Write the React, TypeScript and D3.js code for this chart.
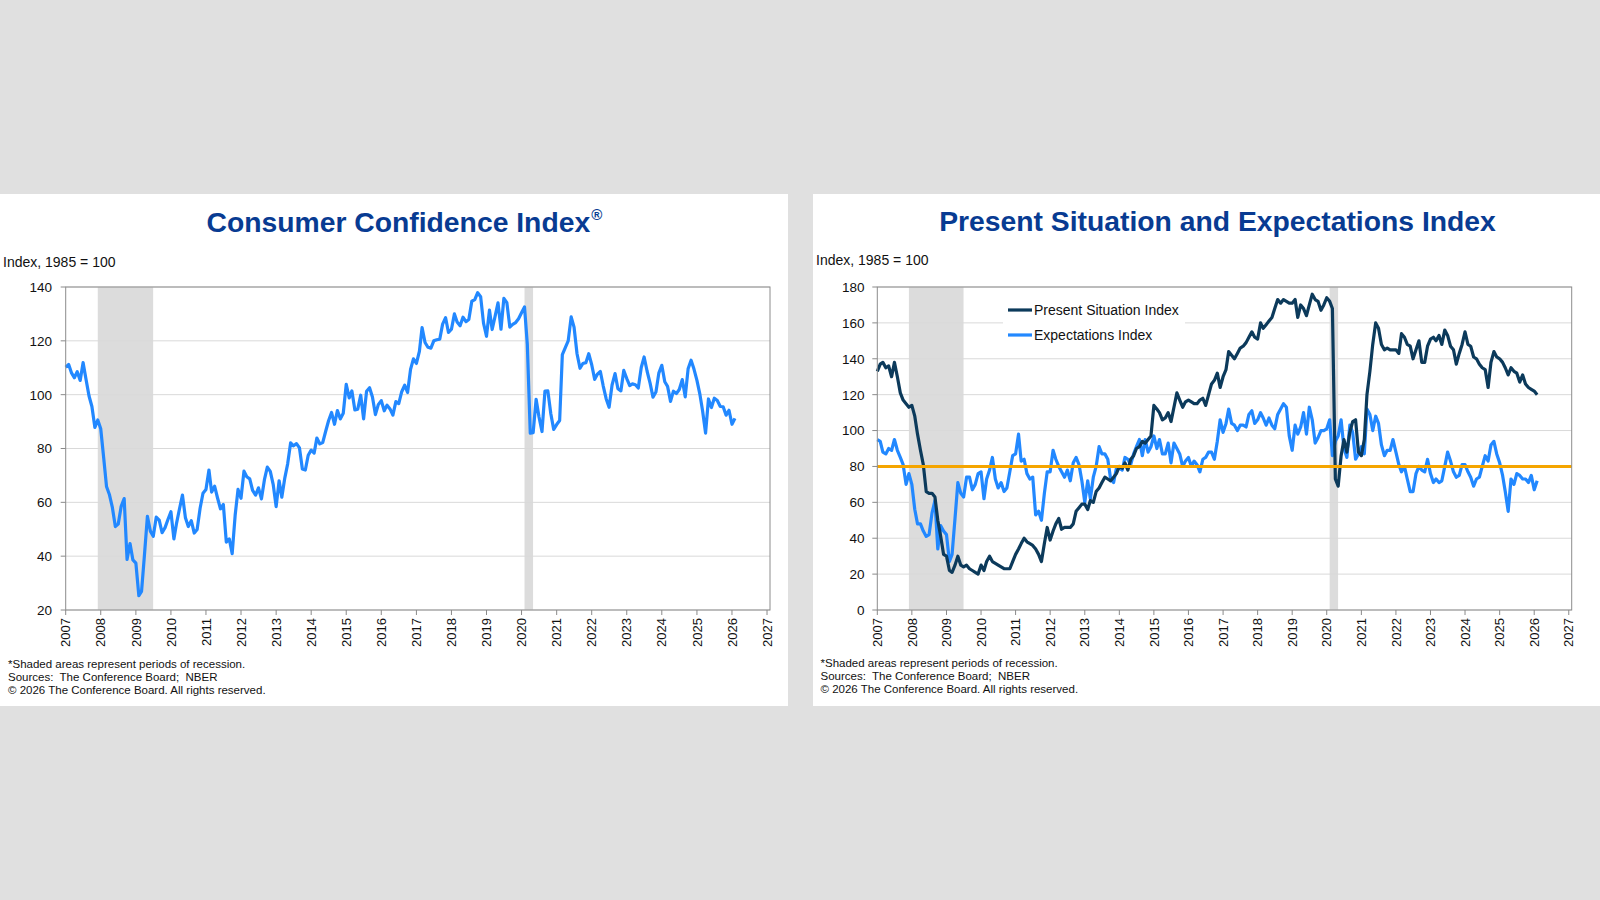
import React from "react";
import * as d3 from "d3";

// monthly values, Jan 2007 .. Feb 2026
const cciValues = [
  110.2, 111.2, 108.2, 106.3, 108.5, 105.3, 111.9, 105.6, 99.5, 95.6, 87.8, 90.6,
  87.3, 76.4, 65.9, 62.8, 58.1, 51.0, 51.9, 58.5, 61.4, 38.8, 44.7, 38.6,
  37.4, 25.3, 26.9, 40.8, 54.8, 49.3, 47.4, 54.5, 53.4, 48.7, 50.6, 53.6,
  56.5, 46.4, 52.3, 57.7, 62.7, 54.3, 51.0, 53.2, 48.6, 49.9, 57.8, 63.4,
  64.8, 72.0, 63.8, 66.0, 61.7, 57.6, 59.2, 45.2, 46.4, 40.9, 55.2, 64.8,
  61.5, 71.6, 69.5, 68.7, 64.4, 62.7, 65.4, 61.3, 68.4, 73.1, 71.5, 66.7,
  58.4, 68.0, 61.9, 69.0, 74.3, 82.1, 81.0, 81.8, 80.2, 72.4, 72.0, 77.5,
  79.4, 78.3, 83.9, 81.7, 82.2, 86.4, 90.3, 93.4, 89.0, 94.1, 91.0, 93.1,
  103.8, 98.8, 101.4, 94.3, 94.6, 99.8, 91.0, 101.3, 102.6, 99.1, 92.6, 96.3,
  97.8, 94.0, 96.1, 94.7, 92.4, 97.4, 96.7, 101.1, 103.5, 100.8, 109.4, 113.3,
  111.6, 116.1, 124.9, 119.4, 117.6, 117.3, 120.0, 120.4, 120.6, 126.2, 128.6, 123.1,
  124.3, 130.0, 127.0, 125.6, 128.8, 127.1, 127.9, 134.7, 135.3, 137.9, 136.4, 126.6,
  121.7, 131.4, 124.2, 129.2, 134.1, 124.3, 135.8, 134.2, 125.1, 126.1, 126.8, 128.2,
  130.4, 132.6, 118.8, 85.7, 85.9, 98.3, 91.7, 86.3, 101.3, 101.4, 92.9, 87.1,
  88.9, 90.4, 114.9, 117.5, 120.0, 128.9, 125.1, 115.2, 109.8, 111.6, 111.9, 115.2,
  111.1, 105.7, 107.6, 108.6, 103.2, 98.4, 95.3, 103.6, 107.8, 102.2, 101.4, 109.0,
  106.0, 103.4, 104.0, 103.7, 102.5, 110.1, 114.0, 108.7, 104.3, 99.1, 101.0, 108.0,
  110.9, 104.8, 103.1, 97.5, 101.3, 100.4, 101.9, 105.6, 99.2, 109.6, 112.8, 109.5,
  105.3, 100.1, 93.9, 85.7, 98.4, 95.2, 98.7, 97.8, 95.6, 95.5, 92.4, 94.2,
  89.0, 91.2,
];

const presentValues = [
  133, 137, 138, 135, 136, 130, 138, 130, 121, 117, 115, 113,
  114, 108, 98, 89, 81, 66, 65, 65, 63, 50, 41, 31,
  30, 22, 21, 25, 30, 25, 24, 25, 23, 22, 21, 20,
  25, 22, 27, 30, 27, 26, 25, 24, 23, 23, 23, 27,
  31, 34, 37, 40, 38, 37, 36, 34, 31, 27, 37, 46,
  39, 44, 48, 51, 45, 46, 46, 46, 48, 55, 57, 59,
  59, 56, 61, 60, 66, 68, 71, 74, 73, 72, 74, 76,
  80, 79, 82, 78, 84, 86, 90, 91, 94, 93, 95, 97,
  114, 112, 110, 106, 107, 110, 105, 113, 121, 117, 113, 116,
  117, 116, 115, 115, 117, 118, 114, 120, 126, 128, 132, 124,
  130, 134, 144, 142, 140, 143, 146, 147, 149, 152, 155, 152,
  151, 160, 157, 159, 161, 163, 168, 173, 171, 173, 172, 171,
  171, 173, 163, 170, 168, 164, 170, 176, 173, 172, 167, 170,
  174, 172, 168, 73, 69, 86, 95, 88, 99, 105, 106, 88,
  86, 95, 120, 133, 148, 160, 157, 148, 145, 146, 145, 145,
  145, 143, 154, 152, 148, 147, 140, 145, 150, 138, 138, 147,
  151, 152, 150, 153, 148, 156, 153, 147, 145, 137, 143, 148,
  155, 148, 147, 141, 140, 137, 135, 134, 124, 138, 144, 141,
  140, 138, 135, 131, 135, 133, 132, 127, 131, 126, 124, 123,
  122, 120,
];

const expectValues = [
  95, 94, 88, 87, 90, 89, 95, 89, 85, 81, 70, 76,
  70, 56, 48, 48, 44, 41, 42, 54, 61, 34, 47, 44,
  42, 27, 31, 51, 71, 65, 63, 74, 74, 67, 70, 76,
  77, 62, 73, 78, 85, 73, 68, 71, 66, 68, 77, 86,
  87, 98, 83, 84, 76, 73, 74, 53, 55, 50, 65, 77,
  77, 89, 84, 80, 77, 74, 78, 72, 82, 85, 81, 72,
  60, 72, 62, 74, 80, 91, 87, 87, 84, 73, 71, 79,
  79, 78, 85, 84, 81, 87, 91, 95, 86, 95, 88, 91,
  97, 90, 95, 87, 87, 93, 82, 93, 90, 87, 80, 83,
  85, 80, 83, 81, 77, 84, 85, 88, 88, 84, 94, 106,
  99, 104, 112, 104, 103, 100, 103, 103, 102, 109, 111, 104,
  106, 110, 107, 103, 107, 103, 101, 109, 112, 115, 113, 97,
  89, 103, 98, 102, 110, 98, 113, 106, 93, 96, 100, 100,
  101, 106, 86, 94, 97, 106, 90, 85, 103, 99, 84, 87,
  91, 87, 112, 109, 100, 108, 104, 92, 86, 89, 89, 95,
  88, 81, 77, 80, 73, 66, 66, 76, 80, 78, 77, 84,
  76, 71, 73, 71, 72, 80, 88, 83, 77, 74, 75, 81,
  81, 77, 74, 69, 73, 74, 80, 86, 83, 92, 94, 87,
  82, 75, 66, 55, 73, 70, 76, 75, 73, 73, 71, 75,
  67, 72,
];

const months = cciValues.map((_, i) => new Date(2007, i, 1));
const yearTicks = d3.range(2007, 2028).map((y) => new Date(y, 0, 1));
const recessions: [Date, Date][] = [
  [new Date(2007, 11, 1), new Date(2009, 5, 30)],
  [new Date(2020, 1, 1), new Date(2020, 3, 30)],
];
const cciTicks = [20, 40, 60, 80, 100, 120, 140];
const psiTicks = [0, 20, 40, 60, 80, 100, 120, 140, 160, 180];
const footnotes = [
  "*Shaded areas represent periods of recession.",
  "Sources:  The Conference Board;  NBER",
  "\u00a9 2026 The Conference Board. All rights reserved.",
];

const FONT = "'Liberation Sans', Arial, Helvetica, sans-serif";
const LIGHT = "#2288ff";
const DARK = "#0c3a5b";
const TITLE = "#083b92";

interface ISeries {
  values: number[];
  color: string;
}

interface IPanel {
  left: number;
  right: number;
  top: number;
  bottom: number;
  yDomain: [number, number];
  yTicks: number[];
  labelRight: number;
  series: ISeries[];
  refLine?: number;
  children?: React.ReactNode;
}

const Plot = (props: IPanel) => {
  const x = d3
    .scaleTime()
    .domain([new Date(2007, 0, 1), new Date(2027, 1, 1)])
    .range([props.left, props.right]);
  const y = d3.scaleLinear().domain(props.yDomain).range([props.bottom, props.top]);
  const line = d3
    .line<number>()
    .x((d, i) => x(months[i]))
    .y((d) => y(d));

  return (
    <g>
      {recessions.map(([a, b], i) => (
        <rect
          key={i}
          x={x(a)}
          y={props.top}
          width={x(b) - x(a)}
          height={props.bottom - props.top}
          fill="#dcdcdc"
        />
      ))}
      {props.yTicks.map((t) => (
        <g key={t}>
          <line x1={props.left} x2={props.right} y1={y(t)} y2={y(t)} stroke="#d9d9d9" strokeWidth={1} />
          <line x1={props.left - 5} x2={props.left} y1={y(t)} y2={y(t)} stroke="#8a8a8a" />
          <text x={props.labelRight} y={y(t)} dy="0.36em" textAnchor="end" fontSize={13.5} fill="#111">
            {t}
          </text>
        </g>
      ))}
      {props.children}
      {props.series.map((s, i) => (
        <path
          key={i}
          d={line(s.values) || ""}
          fill="none"
          stroke={s.color}
          strokeWidth={3.2}
          strokeLinejoin="round"
        />
      ))}
      {props.refLine !== undefined && (
        <line
          x1={props.left}
          x2={props.right}
          y1={y(props.refLine)}
          y2={y(props.refLine)}
          stroke="#f5a500"
          strokeWidth={3}
        />
      )}
      <rect
        x={props.left}
        y={props.top}
        width={props.right - props.left}
        height={props.bottom - props.top}
        fill="none"
        stroke="#8c8c8c"
        strokeWidth={1}
      />
      {yearTicks.map((d) => (
        <g key={d.getFullYear()}>
          <line x1={x(d)} x2={x(d)} y1={props.bottom} y2={props.bottom + 5} stroke="#8a8a8a" />
          <text
            transform={`translate(${x(d)},${props.bottom + 8}) rotate(-90)`}
            dy="0.36em"
            textAnchor="end"
            fontSize={13}
            fill="#111"
          >
            {d.getFullYear()}
          </text>
        </g>
      ))}
    </g>
  );
};

const Footnotes = ({ x, y }: { x: number; y: number }) => (
  <g>
    {footnotes.map((f, i) => (
      <text key={i} x={x} y={y + i * 13} fontSize={11.5} fill="#111" style={{ whiteSpace: "pre" }}>
        {f}
      </text>
    ))}
  </g>
);

const App = () => {
  return (
    <div style={{ position: "absolute", left: 0, top: 0, width: 1600, height: 900 }}>
      <svg width={1600} height={900} style={{ display: "block", fontFamily: FONT }}>
        <rect x={0} y={0} width={1600} height={900} fill="#e0e0e0" />

        {/* left panel */}
        <rect x={0} y={194} width={788} height={512} fill="#fff" />
        <text x={206.5} y={232} fontSize={28.3} fontWeight="bold" fill={TITLE}>
          Consumer Confidence Index
          <tspan fontSize={15} dx={1} dy={-12}>®</tspan>
        </text>
        <text x={3} y={266.5} fontSize={14} fill="#111">
          Index, 1985 = 100
        </text>
        <Plot
          left={65.7}
          right={770}
          top={287}
          bottom={610}
          yDomain={[20, 140]}
          yTicks={cciTicks}
          labelRight={52}
          series={[{ values: cciValues, color: LIGHT }]}
        />
        <Footnotes x={8} y={668} />

        {/* right panel */}
        <rect x={813} y={194} width={787} height={512} fill="#fff" />
        <text x={1217.5} y={231} textAnchor="middle" fontSize={28.3} fontWeight="bold" fill={TITLE}>
          Present Situation and Expectations Index
        </text>
        <text x={816} y={265} fontSize={14} fill="#111">
          Index, 1985 = 100
        </text>
        <Plot
          left={877.3}
          right={1571.7}
          top={287}
          bottom={610}
          yDomain={[0, 180]}
          yTicks={psiTicks}
          labelRight={864.5}
          series={[
            { values: expectValues, color: LIGHT },
            { values: presentValues, color: DARK },
          ]}
          refLine={80}
        >
          <rect x={1003} y={296} width={182} height={51} fill="#fff" />
        </Plot>
        <g>
          <line x1={1008} x2={1032} y1={310} y2={310} stroke={DARK} strokeWidth={3.2} />
          <text x={1034} y={315} fontSize={14} fill="#111">
            Present Situation Index
          </text>
          <line x1={1008} x2={1032} y1={335} y2={335} stroke={LIGHT} strokeWidth={3.2} />
          <text x={1034} y={340} fontSize={14} fill="#111">
            Expectations Index
          </text>
        </g>
        <Footnotes x={820.5} y={667} />
      </svg>
    </div>
  );
};

export default App;
